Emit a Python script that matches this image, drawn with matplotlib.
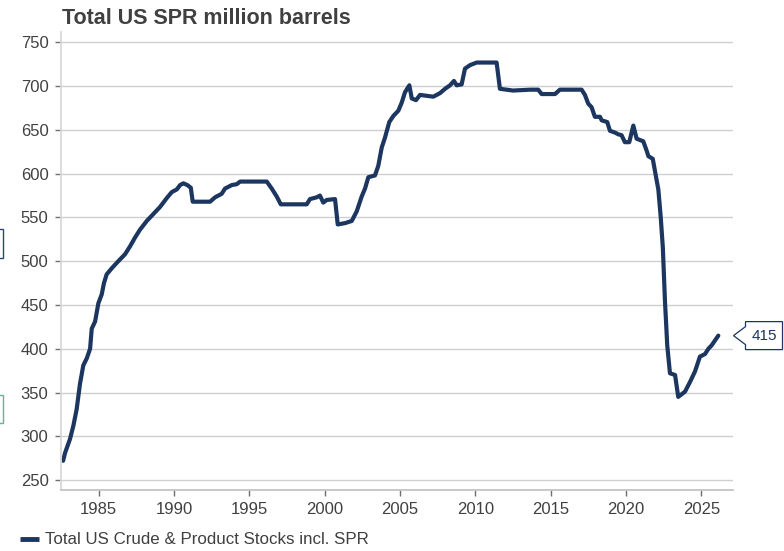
import matplotlib
matplotlib.use("Agg")
import matplotlib.pyplot as plt
from matplotlib.patches import Polygon, Rectangle
from matplotlib.transforms import blended_transform_factory

years = [1982.65, 1982.78, 1983.11, 1983.33, 1983.55, 1983.77, 1983.99, 1984.22, 1984.44, 1984.55,
         1984.77, 1984.99, 1985.21, 1985.36, 1985.54, 1985.88, 1986.31, 1986.76, 1987.09, 1987.42,
         1987.75, 1988.2, 1988.64, 1989.08, 1989.52, 1989.86, 1990.19, 1990.41, 1990.63, 1990.89,
         1991.12, 1991.25, 1992.4, 1992.73, 1993.17, 1993.39, 1993.84, 1994.17, 1994.39, 1996.16,
         1996.49, 1996.82, 1997.09, 1998.81, 1999.03, 1999.47, 1999.69, 1999.91, 2000.14, 2000.69,
         2000.87, 2001.35, 2001.8, 2002.13, 2002.46, 2002.68, 2002.9, 2003.34, 2003.56, 2003.79,
         2004.0, 2004.29, 2004.56, 2004.89, 2005.11, 2005.33, 2005.62, 2005.78, 2006.06, 2006.33,
         2007.21, 2007.65, 2007.99, 2008.32, 2008.58, 2008.76, 2009.09, 2009.31, 2009.64, 2010.09,
         2011.41, 2011.63, 2012.5, 2013.63, 2014.17, 2014.4, 2015.28, 2015.61, 2017.05, 2017.27,
         2017.49, 2017.71, 2017.93, 2018.27, 2018.38, 2018.75, 2018.93, 2019.26, 2019.48, 2019.7,
         2019.92, 2020.21, 2020.48, 2020.7, 2021.14, 2021.37, 2021.48, 2021.77, 2021.99, 2022.14,
         2022.3, 2022.44, 2022.58, 2022.65, 2022.73, 2022.91, 2023.25, 2023.46, 2023.91, 2024.24,
         2024.57, 2024.9, 2025.24, 2025.46, 2025.68, 2026.12]
stocks = [272, 281, 297, 312, 331, 360, 381, 389, 400, 423,
          431, 452, 462, 475, 485, 492, 500, 508, 517, 527,
          536, 546, 554, 562, 572, 579, 582, 587, 589, 587,
          584, 568, 568, 573, 577, 583, 587, 588, 591, 591,
          583, 574, 565, 565, 571, 573, 575, 567, 570, 571,
          542, 543.5, 546, 557, 574, 583, 596, 598, 609, 630,
          641, 659, 666, 672, 681, 693, 701, 686, 684, 690,
          688, 692, 697, 701, 706, 701, 702, 720, 724, 727,
          727, 697, 695, 696, 696, 691, 691, 696, 696, 690,
          680, 676, 665, 665, 661, 659, 649, 647, 645, 644,
          636, 636, 655, 640, 637, 626, 620, 617, 596, 582,
          550, 515, 454, 431, 404, 372, 370, 345, 351, 362,
          374, 391, 394, 400, 404, 415]

x_ticks = [1985, 1990, 1995, 2000, 2005, 2010, 2015, 2020, 2025]
y_ticks = [250, 300, 350, 400, 450, 500, 550, 600, 650, 700, 750]
title = "Total US SPR million barrels"
series_name = "Total US Crude & Product Stocks incl. SPR"
last_label = "415"

plt.rcParams['font.family'] = ['Liberation Sans', 'DejaVu Sans']

W, H = 784, 551
fig = plt.figure(figsize=(W / 100, H / 100), dpi=100)
ax = fig.add_axes([61 / W, 1 - 490 / H, (732.5 - 61) / W, (490 - 32) / H])

line_color = '#1c365f'
text_color = '#404040'

ax.plot(years, stocks, color=line_color, lw=3.0, solid_joinstyle='round', solid_capstyle='round',
        label=series_name)

ax.set_xlim(1982.51, 2027.06)
ax.set_ylim(238.6, 761.9)
ax.set_xticks(x_ticks)
ax.set_yticks(y_ticks)
ax.grid(axis='y', color='#cfcfcf', lw=1.0)
ax.set_axisbelow(True)
for s in ['top', 'right']:
    ax.spines[s].set_visible(False)
ax.spines['left'].set_color('#d9d9d9')
ax.spines['left'].set_linewidth(1.3)
ax.spines['bottom'].set_color('#c4c4c4')
ax.spines['bottom'].set_linewidth(1.3)
ax.tick_params(axis='both', colors='#6f6f6f', length=4, width=1, labelsize=12, labelcolor=text_color)
ax.tick_params(axis='y', pad=5)
ax.tick_params(axis='x', pad=5)

fig.text(62 / W, 1 - 24 / H, title, fontsize=15.5, fontweight='bold', color=text_color, va='baseline', ha='left')

leg = ax.legend(loc='center left', bbox_to_anchor=(20 / W, 1 - 540 / H), bbox_transform=fig.transFigure,
                frameon=False, fontsize=12.2, handlelength=1.1, handletextpad=0.35, borderaxespad=0, borderpad=0)
for t in leg.get_texts():
    t.set_color(text_color)
for h in leg.get_lines():
    h.set_linewidth(3.5)
    h.set_solid_capstyle('butt')

# last value callout
fig.canvas.draw()
bt = blended_transform_factory(ax.transAxes, ax.transData)
tx, ty = bt.transform((1.0, stocks[-1]))
tx += 1
verts = [(tx, ty), (tx + 12, ty + 9), (tx + 12, ty + 14), (tx + 49, ty + 14), (tx + 49, ty - 14),
         (tx + 12, ty - 14), (tx + 12, ty - 9)]
fig.patches.append(Polygon(verts, closed=True, transform=None, facecolor='white', edgecolor=line_color,
                           lw=0.9, figure=fig))
fig.text((tx + 30.5) / W, (ty) / H, last_label, fontsize=11, color=line_color, ha='center', va='center')

# partially visible boxes at left edge
fig.patches.append(Rectangle((-20, 551 - 258), 22.5, 29, transform=None, facecolor='white',
                             edgecolor='#2b4a7a', lw=1, figure=fig))
fig.patches.append(Rectangle((-20, 551 - 423), 22.5, 28, transform=None, facecolor='white',
                             edgecolor='#5fb49c', lw=1, figure=fig))

fig.savefig('out.png', dpi=100)
